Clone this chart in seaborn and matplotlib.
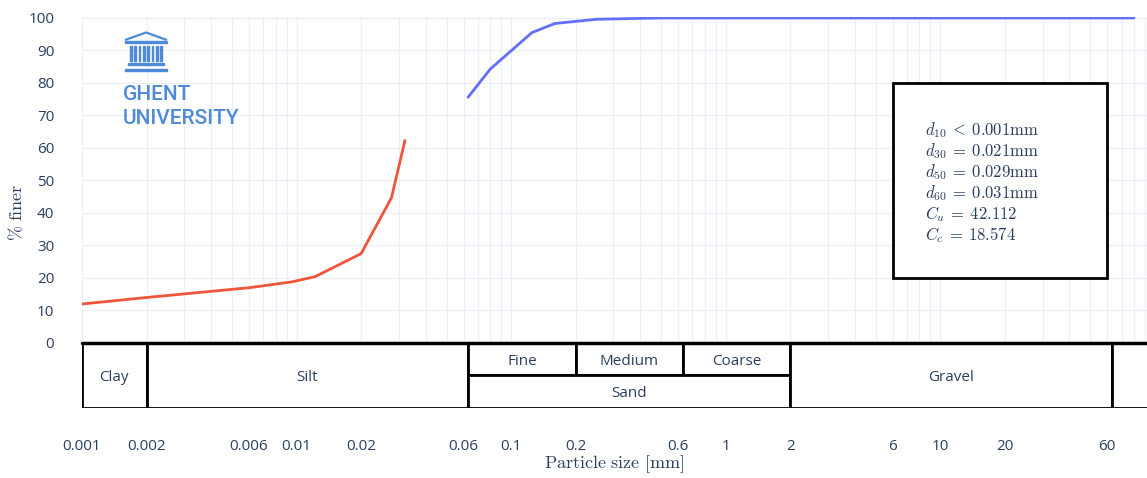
import numpy as np
import pandas as pd
import matplotlib
matplotlib.use("Agg")
import matplotlib.pyplot as plt
import seaborn as sns
from matplotlib.patches import Rectangle, Polygon
from matplotlib.ticker import FixedLocator, LogLocator, NullFormatter

# hydrometer (fine fraction) and sieve results
hydro_size = [0.001, 0.002, 0.006, 0.0095, 0.0122, 0.02, 0.0277, 0.032]
hydro_finer = [12.0, 14.0, 17.0, 18.8, 20.4, 27.5, 44.7, 62.3]
sieve_size = [0.063, 0.08, 0.125, 0.16, 0.25, 0.5, 1, 2, 4, 8, 16, 31.5, 63, 80]
sieve_finer = [75.6, 84.3, 95.5, 98.3, 99.6, 100, 100, 100, 100, 100, 100, 100, 100, 100]

# ISO 14688 soil classes (last one is the unlabeled box past 63 mm)
class_labels = ['Clay', 'Silt', 'Fine', 'Medium', 'Coarse', 'Sand', 'Gravel', '']
class_lo = [0.001, 0.002, 0.063, 0.2, 0.63, 0.063, 2, 63]
class_hi = [0.002, 0.063, 0.2, 0.63, 2, 2, 63, 200]
class_bottom = [-20, -20, -10, -10, -10, -20, -20, -20]
class_top = [0, 0, 0, 0, 0, -10, 0, 0]

tick_values = [0.001, 0.002, 0.006, 0.01, 0.02, 0.06, 0.1, 0.2, 0.6, 1, 2, 6, 10, 20, 60]
tick_labels = ['0.001', '0.002', '0.006', '0.01', '0.02', '0.06', '0.1', '0.2', '0.6', '1', '2', '6', '10', '20', '60']

stats = [r'$d_{10}\:<\:0.001\mathrm{mm}$', r'$d_{30}\:=\:0.021\mathrm{mm}$', r'$d_{50}\:=\:0.029\mathrm{mm}$',
         r'$d_{60}\:=\:0.031\mathrm{mm}$', r'$C_u\:=\:42.112$', r'$C_c\:=\:18.574$']

TXT = '#2a3f5f'
GRID = '#ebf0f8'
LOGO = '#4f8ad9'

sns.set_style("white")
plt.rcParams['font.family'] = ['Open Sans', 'DejaVu Sans']
plt.rcParams['mathtext.fontset'] = 'cm'

fig = plt.figure(figsize=(11.47, 4.78), dpi=100)
W, H = 1147, 478
ax = fig.add_axes([82 / W, (H - 408) / H, (1147 - 82) / W, (408 - 17) / H])

df_h = pd.DataFrame({'size': hydro_size, 'finer': hydro_finer})
df_s = pd.DataFrame({'size': sieve_size, 'finer': sieve_finer})
sns.lineplot(data=df_h, x='size', y='finer', color='#ef553b', lw=2, ax=ax, zorder=3)
sns.lineplot(data=df_s, x='size', y='finer', color='#636efa', lw=2, ax=ax, zorder=3)

ax.set_xscale('log')
ax.set_xlim(0.001, 92)
ax.set_ylim(-20, 100.3)

ax.xaxis.set_major_locator(FixedLocator(tick_values))
ax.set_xticklabels(tick_labels)
ax.xaxis.set_minor_locator(LogLocator(base=10, subs=np.arange(1, 10), numticks=30))
ax.xaxis.set_minor_formatter(NullFormatter())
ax.set_yticks(range(0, 101, 10))
ax.grid(True, which='both', axis='x', color=GRID, lw=1, zorder=0)
ax.grid(True, which='major', axis='y', color=GRID, lw=1, zorder=0)
ax.tick_params(axis='x', which='both', length=0, pad=22, labelsize=11, labelcolor=TXT)
ax.tick_params(axis='y', length=0, pad=20, labelsize=11, labelcolor=TXT)
for s in ax.spines.values():
    s.set_visible(False)

ax.set_xlabel(r'$\mathrm{Particle\ size\ [mm]}$', fontsize=13, color=TXT, labelpad=0)
ax.set_ylabel(r'$\%\ \mathrm{finer}$', fontsize=13, color=TXT)
ax.yaxis.set_label_coords(-0.0525, 0.5)

# classification boxes under the curve
for lab, lo, hi, b, t in zip(class_labels, class_lo, class_hi, class_bottom, class_top):
    ax.add_patch(Rectangle((lo, b), hi - lo, t - b, facecolor='white', edgecolor='black',
                           lw=2, zorder=4, clip_on=True))
    ax.text(np.sqrt(lo * hi), (b + t) / 2 - 0.6, lab, ha='center', va='center', fontsize=11,
            color=TXT, zorder=5, clip_on=True)
ax.plot([0.001, 92], [0, 0], color='black', lw=2.5, zorder=6, clip_on=False)

# result box
ax.add_patch(Rectangle((6, 20), 54, 60, facecolor='white', edgecolor='black', lw=2, zorder=4))
for i, s in enumerate(stats):
    ax.text(8.5, 65.5 - i * 6.45, s, ha='left', va='center', fontsize=12, color=TXT, zorder=5)

# logo
lx = fig.add_axes([0, 0, 1, 1], facecolor='none')
lx.set_xlim(0, W)
lx.set_ylim(H, 0)
lx.axis('off')
lx.add_patch(Polygon([[125, 40], [146, 32.5], [167, 40]], closed=False, fill=False,
                     edgecolor=LOGO, lw=1.6))
lx.add_patch(Rectangle((125, 40.5), 42, 2.2, color=LOGO))
for cx in np.linspace(131, 161, 8):
    lx.add_patch(Rectangle((cx - 0.9, 46), 1.8, 15, color=LOGO))
lx.add_patch(Rectangle((128, 63), 36, 2.2, color=LOGO))
lx.add_patch(Rectangle((125, 69), 42, 2.4, color=LOGO))
lx.text(123, 100, 'GHENT', fontsize=15, color=LOGO, va='baseline', ha='left',
        family=['Roboto', 'DejaVu Sans'], fontweight='medium')
lx.text(123, 124, 'UNIVERSITY', fontsize=15, color=LOGO, va='baseline', ha='left',
        family=['Roboto', 'DejaVu Sans'], fontweight='medium')

fig.savefig('out.png', dpi=100)
